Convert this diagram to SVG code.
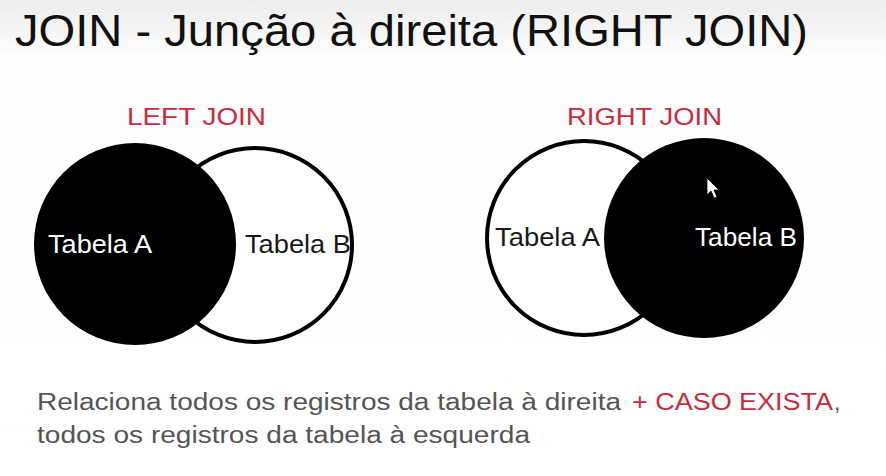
<svg xmlns="http://www.w3.org/2000/svg" width="886" height="476" viewBox="0 0 886 476">
  <defs>
    <linearGradient id="bg" x1="0" y1="0" x2="0" y2="1">
      <stop offset="0" stop-color="#ececec"/>
      <stop offset="0.12" stop-color="#fdfdfd"/>
      <stop offset="1" stop-color="#ffffff"/>
    </linearGradient>
  </defs>
  <style>
    .title { font-family: "Liberation Sans", "DejaVu Sans", sans-serif; font-size: 44px; fill: #111; }
    .head { font-family: "Liberation Sans", "DejaVu Sans", sans-serif; font-size: 24px; fill: #cc2a3c; }
    .lbl { font-family: "Liberation Sans", "DejaVu Sans", sans-serif; font-size: 26px; }
    .dark { fill: #1a1a1a; }
    .light { fill: #ffffff; }
    .body { font-family: "Liberation Sans", "DejaVu Sans", sans-serif; font-size: 23px; fill: #555555; }
    .red { fill: #cc2a3c; }
    .open { fill: #ffffff; stroke: #000; stroke-width: 4; }
    .solid { fill: #000; }
  </style>
  <rect x="0" y="0" width="886" height="476" fill="url(#bg)"/>

  <text class="title" x="15" y="46" textLength="793" lengthAdjust="spacingAndGlyphs">JOIN - Junção à direita (RIGHT JOIN)</text>

  <g id="left-join">
    <text class="head" x="127" y="125" textLength="139" lengthAdjust="spacingAndGlyphs">LEFT JOIN</text>
    <g id="left-tabela-b">
      <circle class="open" cx="255" cy="245" r="97"/>
      <text class="lbl dark" x="245" y="253" textLength="106" lengthAdjust="spacingAndGlyphs">Tabela B</text>
    </g>
    <g id="left-tabela-a">
      <circle class="solid" cx="135" cy="244" r="101"/>
      <text class="lbl light" x="48" y="253" textLength="104" lengthAdjust="spacingAndGlyphs">Tabela A</text>
    </g>
  </g>

  <g id="right-join">
    <text class="head" x="567" y="125" textLength="155" lengthAdjust="spacingAndGlyphs">RIGHT JOIN</text>
    <g id="right-tabela-a">
      <circle class="open" cx="584" cy="238" r="97"/>
      <text class="lbl dark" x="495" y="246" textLength="105" lengthAdjust="spacingAndGlyphs">Tabela A</text>
    </g>
    <g id="right-tabela-b">
      <circle class="solid" cx="704" cy="238" r="100"/>
      <text class="lbl light" x="695" y="246" textLength="102" lengthAdjust="spacingAndGlyphs">Tabela B</text>
    </g>
  </g>

  <polygon points="707,178 707,195 711,191 714,198 717,197 714,190 719,190" fill="#ffffff" stroke="#000" stroke-width="0.8"/>

  <g id="description">
    <text class="body" x="37" y="410" textLength="584" lengthAdjust="spacingAndGlyphs">Relaciona todos os registros da tabela à direita</text>
    <text class="body red" x="632" y="410" textLength="201" lengthAdjust="spacingAndGlyphs">+ CASO EXISTA</text>
    <text class="body" x="834" y="410">,</text>
    <text class="body" x="37" y="443" textLength="493" lengthAdjust="spacingAndGlyphs">todos os registros da tabela à esquerda</text>
  </g>
</svg>
